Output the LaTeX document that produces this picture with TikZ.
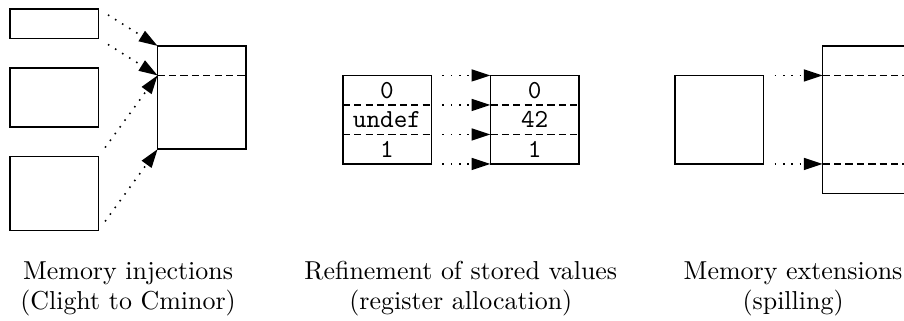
\documentclass[tikz,border=0pt]{standalone}
\usetikzlibrary{arrows.meta,calc}
\tikzset{
  every picture/.style={line width=0.6pt},
  blk/.style={draw, minimum width=1.2cm, inner sep=0pt, outer sep=0pt, anchor=north west},
  cell/.style={minimum width=1.2cm, minimum height=0.4cm, inner sep=0pt, outer sep=0pt, anchor=north west, font=\ttfamily},
  dsh/.style={dash pattern=on 2.8pt off 1.6pt},
  inj/.style={dash pattern=on 0.6pt off 2.6pt, -{Triangle[length=7.2pt,width=4.6pt]}, shorten <=4.3pt},
  lbl/.style={anchor=base, inner sep=0pt},
}
\begin{document}
\begin{tikzpicture}
\useasboundingbox (0,0) rectangle (12.249,-4.336);
\clip (0,0) rectangle (12.249,-4.336);
% ---- left: memory injections
\node[blk, minimum height=0.4cm] (A) at (0.135,-0.122) {};
\node[blk, minimum height=0.8cm] (B) at (0.135,-0.922) {};
\node[blk, minimum height=1.0cm] (C) at (0.135,-2.122) {};
\node[blk, minimum height=1.4cm] (D) at (2.135,-0.622) {};
\coordinate (Dm) at ($(D.north west)+(0,-0.4)$);
\coordinate (Dme) at (Dm -| D.east);
\draw[dsh] (Dm) -- (Dme);
\draw[inj] (A.north east) -- (D.north west);
\draw[inj] (A.south east) -- (Dm);
\draw[inj] (C.north east) -- (Dm);
\draw[inj] (C.south east) -- (D.south west);
% ---- middle: refinement of stored values
\node[cell] (L1) at (4.644,-1.022) {0};
\node[cell] (L2) at (4.644,-1.422) {undef};
\node[cell] (L3) at (4.644,-1.822) {1};
\node[cell] (R1) at (6.644,-1.022) {0};
\node[cell] (R2) at (6.644,-1.422) {42};
\node[cell] (R3) at (6.644,-1.822) {1};
\draw (L1.north west) rectangle (L3.south east);
\draw (R1.north west) rectangle (R3.south east);
\draw[dsh] (L1.south west) -- (L1.south east);
\draw[dsh] (L2.south west) -- (L2.south east);
\draw[dsh] (R1.south west) -- (R1.south east);
\draw[dsh] (R2.south west) -- (R2.south east);
\draw[inj] (L1.north east) -- (R1.north west);
\draw[inj] (L1.south east) -- (R1.south west);
\draw[inj] (L2.south east) -- (R2.south west);
\draw[inj] (L3.south east) -- (R3.south west);
% ---- right: memory extensions
\node[blk, minimum height=1.2cm] (S) at (9.146,-1.022) {};
\node[blk, minimum height=2.0cm] (E) at (11.146,-0.622) {};
\coordinate (Et) at (S.north east -| E.west);
\coordinate (Ete) at (S.north east -| E.east);
\coordinate (Eb) at (S.south east -| E.west);
\coordinate (Ebe) at (S.south east -| E.east);
\draw[dsh] (Et) -- (Ete);
\draw[dsh] (Eb) -- (Ebe);
\draw[inj] (S.north east) -- (Et);
\draw[inj] (S.south east) -- (Eb);
% ---- labels
\node[lbl] (t1a) at (1.735,-3.785) {Memory injections};
\node[lbl] (t1b) at (1.735,-4.191) {(Clight to Cminor)};
\node[lbl] (t2a) at (6.244,-3.785) {Refinement of stored values};
\node[lbl] (t2b) at (6.244,-4.191) {(register allocation)};
\node[lbl] (t3a) at (10.746,-3.785) {Memory extensions};
\node[lbl] (t3b) at (10.746,-4.191) {(spilling)};
\end{tikzpicture}
\end{document}
